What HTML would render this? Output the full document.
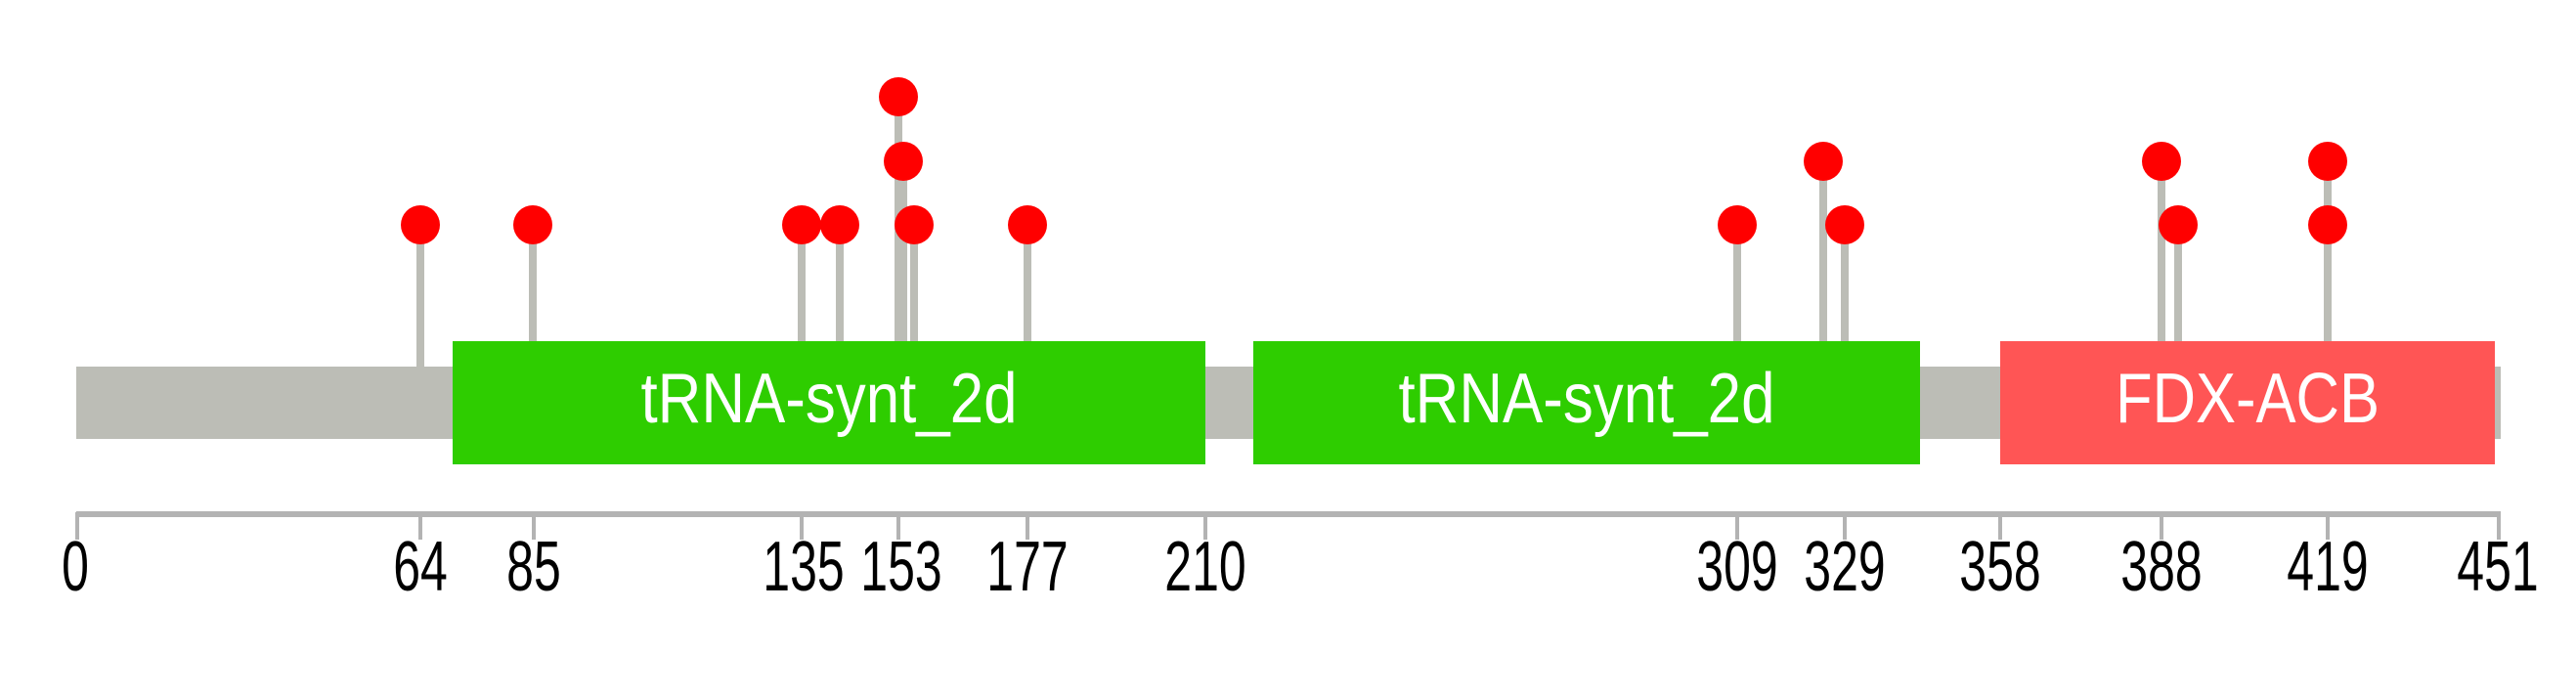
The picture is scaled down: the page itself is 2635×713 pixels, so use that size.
<!DOCTYPE html>
<html><head><style>html,body{margin:0;padding:0;background:#fff}</style></head>
<body>
<svg width="2635" height="708" xmlns="http://www.w3.org/2000/svg">
<rect x="0" y="0" width="2635" height="708" fill="#fff"/>
<rect x="78" y="375" width="2480" height="74" fill="#bcbdb6"/>
<g stroke="#bcbdb6" stroke-width="8">
<line x1="430" y1="230" x2="430" y2="375"/>
<line x1="545" y1="230" x2="545" y2="349"/>
<line x1="820" y1="230" x2="820" y2="349"/>
<line x1="859" y1="230" x2="859" y2="349"/>
<line x1="919" y1="99" x2="919" y2="349"/>
<line x1="924" y1="165" x2="924" y2="349"/>
<line x1="935" y1="230" x2="935" y2="349"/>
<line x1="1051" y1="230" x2="1051" y2="349"/>
<line x1="1777" y1="230" x2="1777" y2="349"/>
<line x1="1865" y1="165" x2="1865" y2="349"/>
<line x1="1887" y1="230" x2="1887" y2="349"/>
<line x1="2211" y1="165" x2="2211" y2="349"/>
<line x1="2228" y1="230" x2="2228" y2="349"/>
<line x1="2381" y1="165" x2="2381" y2="349"/>
</g>
<g fill="#ff0000">
<circle cx="430" cy="230" r="20"/>
<circle cx="545" cy="230" r="20"/>
<circle cx="820" cy="230" r="20"/>
<circle cx="859" cy="230" r="20"/>
<circle cx="919" cy="99" r="20"/>
<circle cx="924" cy="165" r="20"/>
<circle cx="935" cy="230" r="20"/>
<circle cx="1051" cy="230" r="20"/>
<circle cx="1777" cy="230" r="20"/>
<circle cx="1865" cy="165" r="20"/>
<circle cx="1887" cy="230" r="20"/>
<circle cx="2211" cy="165" r="20"/>
<circle cx="2228" cy="230" r="20"/>
<circle cx="2381" cy="165" r="20"/>
<circle cx="2381" cy="230" r="20"/>
</g>
<rect x="463" y="349" width="770" height="126" fill="#2ecd00"/>
<rect x="1282" y="349" width="682" height="126" fill="#2ecd00"/>
<rect x="2046" y="349" width="506" height="126" fill="#ff5555"/>
<g font-family="Liberation Sans, sans-serif" font-size="58" fill="#fff" text-anchor="middle" transform="translate(0,432) scale(1,1.25) translate(0,-432)">
<text x="848" y="432" textLength="385" lengthAdjust="spacingAndGlyphs">tRNA-synt_2d</text>
<text x="1623" y="432" textLength="385" lengthAdjust="spacingAndGlyphs">tRNA-synt_2d</text>
<text x="2299" y="432" textLength="270" lengthAdjust="spacingAndGlyphs">FDX-ACB</text>
</g>
<rect x="78" y="523" width="2480" height="6" fill="#b3b3b3"/>
<g stroke="#b3b3b3" stroke-width="4">
<line x1="79" y1="524" x2="79" y2="552"/>
<line x1="430" y1="524" x2="430" y2="552"/>
<line x1="546" y1="524" x2="546" y2="552"/>
<line x1="820" y1="524" x2="820" y2="552"/>
<line x1="919" y1="524" x2="919" y2="552"/>
<line x1="1051" y1="524" x2="1051" y2="552"/>
<line x1="1233" y1="524" x2="1233" y2="552"/>
<line x1="1777" y1="524" x2="1777" y2="552"/>
<line x1="1887" y1="524" x2="1887" y2="552"/>
<line x1="2046" y1="524" x2="2046" y2="552"/>
<line x1="2211" y1="524" x2="2211" y2="552"/>
<line x1="2381" y1="524" x2="2381" y2="552"/>
<line x1="2556" y1="524" x2="2556" y2="552"/>
</g>
<g font-family="Liberation Sans, sans-serif" font-size="50" fill="#000" text-anchor="middle" transform="translate(0,604) scale(1,1.45) translate(0,-604)">
<text x="77" y="604">0</text>
<text x="430" y="604">64</text>
<text x="546" y="604">85</text>
<text x="822" y="604">135</text>
<text x="922" y="604">153</text>
<text x="1051" y="604">177</text>
<text x="1233" y="604">210</text>
<text x="1777" y="604">309</text>
<text x="1887" y="604">329</text>
<text x="2046" y="604">358</text>
<text x="2211" y="604">388</text>
<text x="2381" y="604">419</text>
<text x="2555" y="604">451</text>
</g>
</svg>
</body></html>
